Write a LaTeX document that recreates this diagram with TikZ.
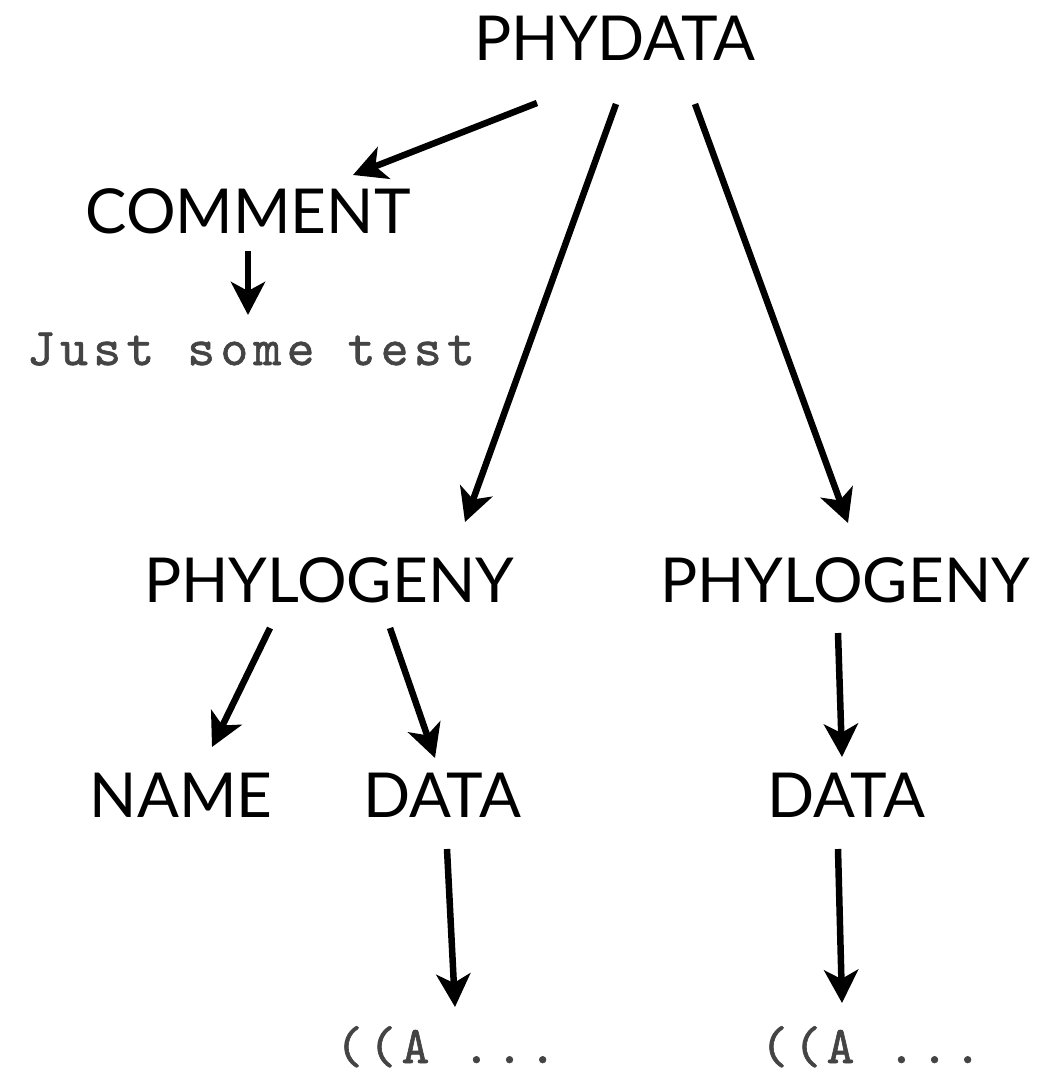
\documentclass[tikz,border=0pt]{standalone}
\usepackage{fontspec}
\usetikzlibrary{arrows.meta,calc}
\newfontfamily\labelfont{Lato}
\newfontfamily\codefont[FakeBold=1.2,LetterSpace=10]{lmmono10-regular.otf}
\definecolor{codegray}{HTML}{444444}
\begin{document}
\begin{tikzpicture}[x=1pt,y=-1pt,
  lbl/.style={anchor=base,inner sep=0pt,font=\labelfont\fontsize{62}{62}\selectfont},
  code/.style={anchor=base,inner sep=0pt,text=codegray,font=\codefont\fontsize{53}{53}\selectfont},
  arr/.style={line width=6.5pt,-{Stealth[length=33pt,width=34pt,inset=9pt]}}]
\useasboundingbox (0,0) rectangle (1058,1074);

% tree nodes
\node[lbl]  (phydata) at (615,60)   {PHYDATA};
\node[lbl]  (comment) at (248,233)  {COMMENT};
\node[code] (note)    at (251,365)  {Just some test};
\node[lbl]  (phyL)    at (329,602)  {PHYLOGENY};
\node[lbl]  (phyR)    at (845,602)  {PHYLOGENY};
\node[lbl]  (name)    at (181,817)  {NAME};
\node[lbl]  (dataL)   at (442,817)  {DATA};
\node[lbl]  (dataR)   at (846,817)  {DATA};
\node[code] (treeL)   at (446,1063) {((A ...};
\node[code] (treeR)   at (871,1063) {((A ...};

% parent -> child links
\draw[arr] ($(phydata.base)+(-78,43)$) -- ($(comment.base)+(105,-58)$);
\draw[arr] ($(phydata.base)+(1,44)$)   -- ($(phyL.base)+(136,-80)$);
\draw[arr] ($(phydata.base)+(80,44)$)  -- ($(phyR.base)+(3,-79)$);
\draw[arr] ($(comment.base)+(0,18)$)   -- ($(note.base)+(-3,-50)$);
\draw[arr] ($(phyL.base)+(-59,26)$)    -- ($(name.base)+(31,-70)$);
\draw[arr] ($(phyL.base)+(61,26)$)     -- ($(dataL.base)+(-7,-59)$);
\draw[arr] ($(phyR.base)+(-7,31)$)     -- ($(dataR.base)+(-4,-60)$);
\draw[arr] ($(dataL.base)+(5,32)$)     -- ($(treeL.base)+(9,-56)$);
\draw[arr] ($(dataR.base)+(-8,32)$)    -- ($(treeR.base)+(-29,-60)$);
\end{tikzpicture}
\end{document}
